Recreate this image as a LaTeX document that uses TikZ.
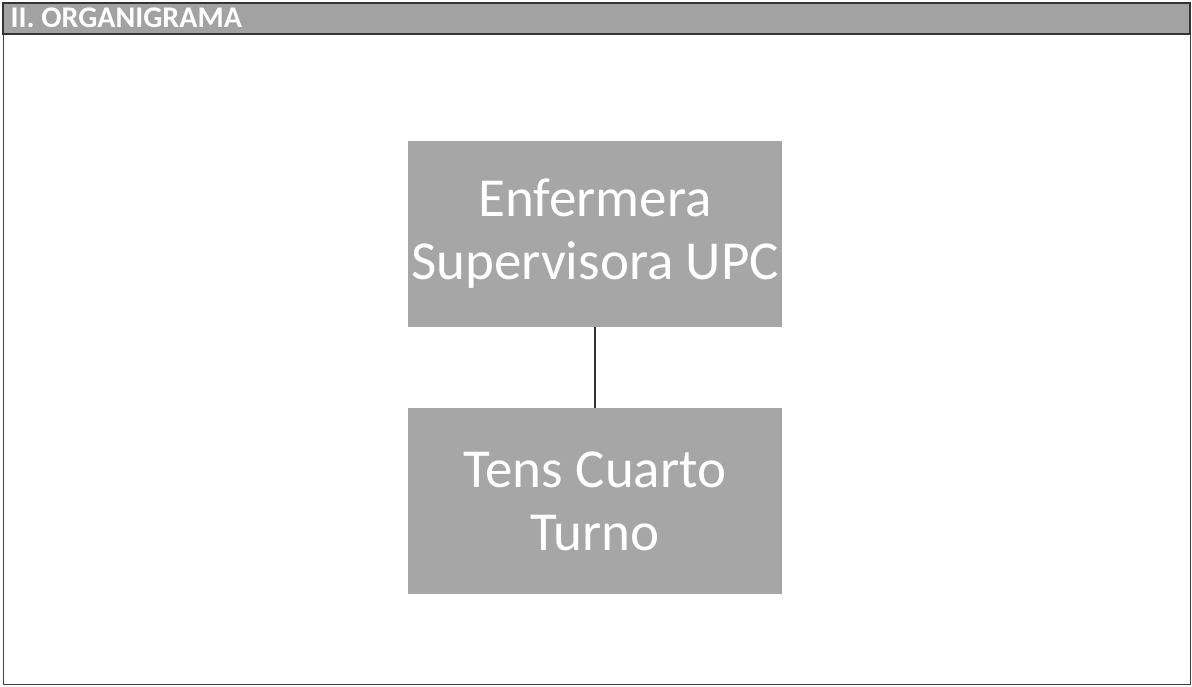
\documentclass[tikz,border=0pt]{standalone}
\usepackage{fontspec}
\setmainfont{Carlito}
\usetikzlibrary{positioning}
\definecolor{boxgray}{HTML}{A6A6A6}
\definecolor{bargray}{HTML}{A2A2A2}
\tikzset{cargo/.style={fill=boxgray, text=white, minimum width=374pt, minimum height=186pt,
    align=center, inner sep=0pt, font=\fontsize{55}{63}\selectfont}}

\begin{document}
\begin{tikzpicture}[x=1pt,y=-1pt]
		\useasboundingbox (0,0) rectangle (1192,686);
		\draw[black!75, line width=1pt] (3,3) rectangle (1190,684);
		\draw[black!80, fill=bargray, line width=1.2pt] (3,3) rectangle (1190,34);
		\node[anchor=west, text=white, font=\fontsize{30}{32}\selectfont\bfseries] (titulo) at (7,18) {II. ORGANIGRAMA};
		\node[cargo] (sup) at (595,233.5) {Enfermera\\Supervisora UPC};
		\node[cargo, below=81pt of sup] (tens) {Tens Cuarto\\Turno};
		\draw[black!80, line width=1.2pt] (sup)--(tens);
\end{tikzpicture}
\end{document}
